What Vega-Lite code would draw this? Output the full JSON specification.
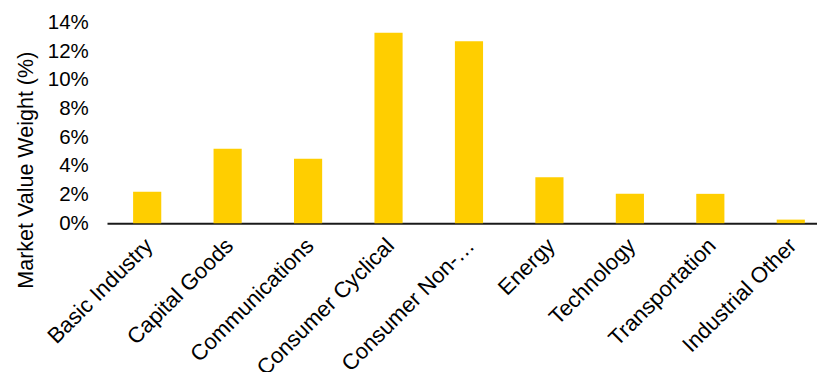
{
  "$schema": "https://vega.github.io/schema/vega-lite/v6.json",
  "autosize": {"type": "none"},
  "padding": {"left": 107, "top": 22.7, "right": 0, "bottom": 148.8},
  "width": 710,
  "height": 200.5,
  "background": "white",
  "config": {
    "view": {"stroke": null},
    "font": "Liberation Sans"
  },
  "data": {
    "values": [
      {"sector": "Basic Industry", "weight": 0.022},
      {"sector": "Capital Goods", "weight": 0.052},
      {"sector": "Communications", "weight": 0.045},
      {"sector": "Consumer Cyclical", "weight": 0.133},
      {"sector": "Consumer Non-Cyclical", "weight": 0.127},
      {"sector": "Energy", "weight": 0.032},
      {"sector": "Technology", "weight": 0.0205},
      {"sector": "Transportation", "weight": 0.0205},
      {"sector": "Industrial Other", "weight": 0.0025}
    ]
  },
  "mark": {"type": "bar", "color": "#FFCE00"},
  "encoding": {
    "x": {
      "field": "sector",
      "type": "nominal",
      "sort": null,
      "scale": {"paddingInner": 0.65, "paddingOuter": 0.2377, "align": 0.6825},
      "axis": {
        "title": null,
        "labelAngle": -45,
        "labelAlign": "right",
        "labelBaseline": "middle",
        "labelFont": "Liberation Sans",
        "labelFontSize": 22,
        "labelColor": "#000000",
        "labelPadding": 18.5,
        "labelOffset": 2,
        "labelLimit": 186,
        "labelOverlap": false,
        "ticks": false,
        "tickSize": 0,
        "domainColor": "#1a1a1a",
        "domainWidth": 2,
        "grid": false
      }
    },
    "y": {
      "field": "weight",
      "type": "quantitative",
      "scale": {"domain": [0, 0.14], "nice": false},
      "axis": {
        "title": "Market Value Weight (%)",
        "titleFont": "Liberation Sans",
        "titleFontSize": 21.5,
        "titleFontWeight": "normal",
        "titleColor": "#000000",
        "titleAngle": -90,
        "titleAlign": "center",
        "titleBaseline": "alphabetic",
        "titleX": -74.6,
        "titleY": 147,
        "values": [0, 0.02, 0.04, 0.06, 0.08, 0.1, 0.12, 0.14],
        "format": ".0%",
        "labelFont": "Liberation Sans",
        "labelFontSize": 20.5,
        "labelColor": "#000000",
        "labelPadding": 18.7,
        "labelOverlap": false,
        "labelFlush": false,
        "ticks": false,
        "tickSize": 0,
        "domain": false,
        "grid": false
      }
    }
  }
}
